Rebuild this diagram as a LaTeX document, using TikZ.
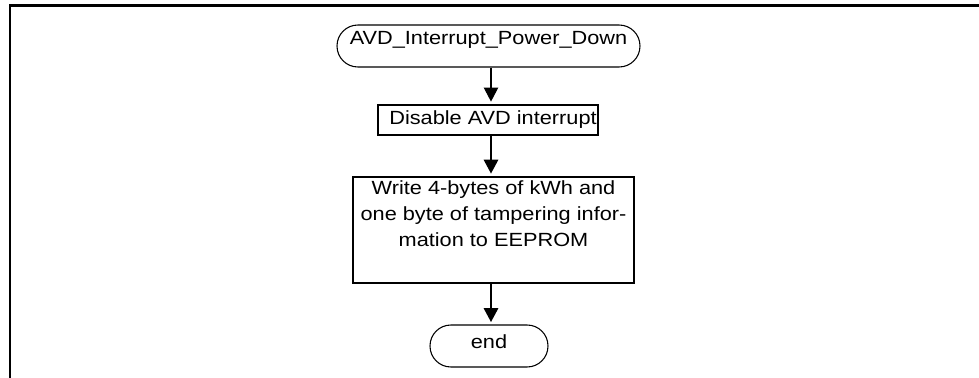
\documentclass[tikz,border=0pt]{standalone}
\usepackage{fontspec}
\setmainfont{Liberation Sans}[FakeStretch=1.14]
\usetikzlibrary{arrows.meta}
\begin{document}
\begin{tikzpicture}[x=0.75pt,y=-0.75pt,
  font=\fontsize{14.3}{19.5}\selectfont,
  term/.style={draw, line width=0.8pt, rounded corners=15.7pt, inner sep=0pt},
  proc/.style={draw, line width=1.5pt, inner sep=0pt},
  arr/.style={-{Triangle[width=10.8pt,length=10.5pt]}, shorten >=1.8pt},
  thinline/.style={line width=0.8pt},
  fatline/.style={line width=1.5pt}]
\useasboundingbox (0,0) rectangle (979,378);
% frame
\draw[line width=1.6pt] (10,379) -- (10,5.5) -- (980,5.5);
% nodes
\node[term, minimum width=227.25pt, minimum height=31.5pt,
      text height=8pt, text depth=10pt] (st) at (488.5,46) {AVD\_Interrupt\_Power\_Down};
\node[proc, minimum width=165pt, minimum height=22.5pt] (dis) at (488,120)
      {\hspace*{7.5pt}Disable AVD interrupt};
\node[proc, minimum width=210.75pt, minimum height=79.5pt,
      label={[anchor=north, align=center, inner sep=0pt, yshift=-3.3pt]north:
      Write 4-bytes of kWh and\\one byte of tampering infor-\\mation to EEPROM}]
      (wr) at (493.5,230) {};
\node[term, minimum width=88.5pt, minimum height=31.5pt,
      text height=8pt, text depth=4.6pt] (en) at (489,346) {end};
% connectors
\coordinate (ax) at (491,0);
\draw[arr, thinline] (st.south -| ax) -- (dis.north -| ax);
\draw[arr, fatline] (dis.south -| ax) -- (wr.north -| ax);
\draw[arr, fatline] (wr.south -| ax) -- (en.north -| ax);
\end{tikzpicture}
\end{document}
